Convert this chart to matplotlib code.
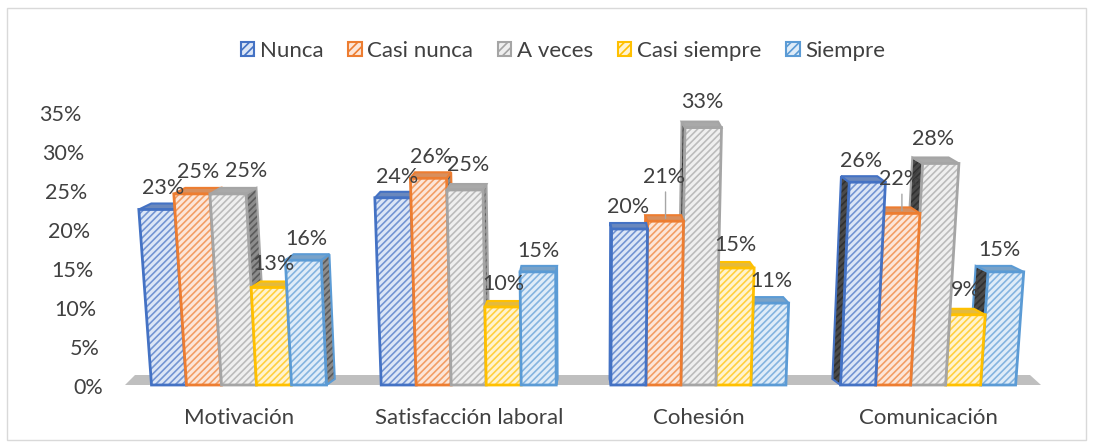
import matplotlib as mpl
mpl.use('Agg')
import matplotlib.pyplot as plt
from matplotlib.colors import to_rgb
from matplotlib.patches import Polygon, Patch, Rectangle
from matplotlib.transforms import Affine2D
import numpy as np

categories = ['Motivación', 'Satisfacción laboral', 'Cohesión', 'Comunicación']
series_names = ['Nunca', 'Casi nunca', 'A veces', 'Casi siempre', 'Siempre']
values = {
    'Nunca':        [22.5, 24.0, 20.0, 26.0],
    'Casi nunca':   [24.5, 26.5, 21.0, 22.0],
    'A veces':      [24.5, 25.0, 33.0, 28.4],
    'Casi siempre': [12.5, 10.0, 15.0, 9.0],
    'Siempre':      [16.0, 14.5, 10.5, 14.5],
}
labels = {
    'Nunca':        ['23%', '24%', '20%', '26%'],
    'Casi nunca':   ['25%', '26%', '21%', '22%'],
    'A veces':      ['25%', '25%', '33%', '28%'],
    'Casi siempre': ['13%', '10%', '15%', '9%'],
    'Siempre':      ['16%', '15%', '11%', '15%'],
}
yticks = [0, 5, 10, 15, 20, 25, 30, 35]

colors = ['#4472C4', '#ED7D31', '#A5A5A5', '#FFC000', '#5B9BD5']
pale = ['#DCE6F6', '#FCE6D9', '#EFEFEF', '#FFF3D0', '#DFECF8']
text_color = '#404040'

# label offsets from the top of each bar, pixels
label_dx = [[6, 4, -1, -6], [6, 3, -1, -2], [18, 3, -1, -8], [4, 1, -1, -2], [3, 1, 0, -6]]
label_dy = [[23, 22, 23, 22], [23, 22, 45, 35], [24, 26, 27, 25], [24, 24, 24, 26], [22, 22, 23, 23]]

plt.rcParams['font.family'] = ['Lato', 'DejaVu Sans']
plt.rcParams['hatch.linewidth'] = 1.2

W, H = 1094, 448
px_x = 229.7      # pixels per category
px_y = 7.8        # pixels per percent
x0_px, first_px = 107, 239
bar_w = 35 / px_x
cx = (585 - first_px) / px_x   # vanishing point
persp = 0.0013
depth_x = 0.03
depth_y = 6 / px_y


def slant(x, h):
    return x + (x - cx) * persp * h


def mix(c, other, t):
    a, b = np.array(to_rgb(c)), np.array(to_rgb(other))
    return tuple(a * (1 - t) + b * t)


fig = plt.figure(figsize=(W / 100, H / 100), dpi=100)
ax = fig.add_axes([x0_px / W, 63 / H, 1 - x0_px / W, 35 * px_y / H])
ax.set_xlim((x0_px - first_px) / px_x, (W - first_px) / px_x)
ax.set_ylim(0, 35)
for s in ax.spines.values():
    s.set_visible(False)
ax.patch.set_visible(False)

fig.add_artist(Rectangle((7 / W, 8 / H), 1079 / W, 432 / H, transform=fig.transFigure,
                         fill=False, edgecolor='#D9D9D9', linewidth=1))

# floor
fl, fr = (125 - first_px) / px_x, (1041 - first_px) / px_x
ax.add_patch(Polygon([(fl, 0), (fr, 0), (fr - 11 / px_x, 10 / px_y), (fl + 10 / px_x, 10 / px_y)],
                     facecolor='#BFBFBF', edgecolor='none', clip_on=False, zorder=1))

# collect the bars so that the back of each one falls behind its neighbour
bars = []
for g in range(len(categories)):
    for s in range(len(series_names)):
        left = g + (s - 2.5) * bar_w
        bars.append((g, s, left))
bars.sort(key=lambda b: -abs(b[2] + bar_w / 2 - cx))

z = 2
for g, s, left in bars:
    name = series_names[s]
    h = values[name][g]
    right = left + bar_w
    tl, tr = slant(left, h), slant(right, h)
    d = depth_x * (cx - (left + right) / 2)
    c = colors[s]
    # side face, lit on the left of the chart and dark on the right
    if d > 0:
        side = [(right, 0), (right + d, depth_y), (tr + d, h + depth_y), (tr, h)]
        side_col = '#8C8C8C'
    else:
        side = [(left, 0), (left + d, depth_y), (tl + d, h + depth_y), (tl, h)]
        side_col = '#4A4A4A'
    ax.add_patch(Polygon(side, facecolor=side_col, edgecolor=mix(side_col, 'black', 0.35), hatch='/////',
                         linewidth=0, clip_on=False, zorder=z))
    ax.add_patch(Polygon(side, fill=False, edgecolor=c, linewidth=1.5, clip_on=False, zorder=z + 0.05))
    # top face
    top = [(tl, h), (tr, h), (tr + d, h + depth_y), (tl + d, h + depth_y)]
    ax.add_patch(Polygon(top, facecolor=mix(c, '#B0B0B0', 0.35), edgecolor=c, linewidth=1.5,
                         clip_on=False, zorder=z + 0.1))
    # front face
    front = [(left, 0), (right, 0), (tr, h), (tl, h)]
    ax.add_patch(Polygon(front, facecolor=pale[s], edgecolor=mix(c, 'white', 0.25), hatch='/////', linewidth=0,
                         clip_on=False, zorder=z + 0.2))
    ax.add_patch(Polygon(front, fill=False, edgecolor=c, linewidth=2,
                         clip_on=False, zorder=z + 0.3))
    z += 1

for s, name in enumerate(series_names):
    for g in range(len(categories)):
        h = values[name][g]
        mid = g + (s - 2) * bar_w
        top_x = slant(mid, h)
        ax.annotate(labels[name][g], xy=(top_x, h), xycoords='data',
                    xytext=(label_dx[s][g], label_dy[s][g] - 1), textcoords='offset pixels',
                    ha='center', va='center', fontsize=15.5, color=text_color,
                    annotation_clip=False, zorder=200)

# leader lines of the two displaced labels
for s, g in [(1, 2), (1, 3)]:
    name = series_names[s]
    h = values[name][g]
    top_x = slant(g + (s - 2) * bar_w, h)
    ax.annotate('', xy=(top_x, h), xytext=(top_x, h + (label_dy[s][g] - 13) / px_y),
                arrowprops=dict(arrowstyle='-', color='#A6A6A6', lw=1), annotation_clip=False, zorder=190)

ax.set_xticks(range(len(categories)))
ax.set_xticklabels(categories, fontsize=16, color=text_color)
ax.tick_params(axis='x', length=0, pad=16.3)

ax.set_yticks(yticks)
ax.set_yticklabels(['%d%%' % v for v in yticks], fontsize=15.5, color=text_color)
ax.tick_params(axis='y', length=0)
for tick, v in zip(ax.yaxis.get_major_ticks(), yticks):
    tick.set_pad((x0_px - slant((x0_px - first_px) / px_x, v) * px_x - first_px + 4) * 0.72)
for lab in ax.get_yticklabels():
    lab.set_transform(lab.get_transform() + Affine2D().translate(0, -1))

handles = [Patch(facecolor=pale[i], edgecolor=colors[i], hatch='////', linewidth=1.5)
           for i in range(len(series_names))]
fig.legend(handles, series_names, loc='center', bbox_to_anchor=(563 / W, 1 - 51 / H), ncol=5,
           frameon=False, fontsize=16, labelcolor=text_color, handlelength=0.6, handleheight=0.6,
           handletextpad=0.25, columnspacing=1.12)

fig.savefig('out.png', dpi=100)
